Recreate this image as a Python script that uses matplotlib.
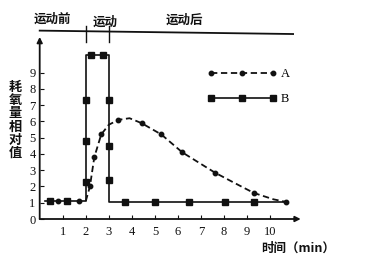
import numpy as np
import matplotlib
matplotlib.use('Agg')
import matplotlib.pyplot as plt
from matplotlib.lines import Line2D

plt.rcParams['font.family'] = ['Liberation Serif', 'DejaVu Serif']
CJK = ['Noto Sans CJK SC', 'DejaVu Sans']
INK = '#111111'

# curve B (solid, squares): line path + marker points
b_line_x = [0.25, 2.0, 2.0, 3.0, 3.0, 10.7]
b_line_y = [1.1, 1.1, 10.1, 10.1, 1.05, 1.05]
b_mark_x = [0.45, 1.2, 2.0, 2.0, 2.0, 2.24, 2.73, 3.0, 3.0, 3.0, 3.7, 5.0, 6.5, 8.05, 9.3]
b_mark_y = [1.1, 1.1, 2.3, 4.8, 7.3, 10.1, 10.1, 7.3, 4.5, 2.4, 1.05, 1.05, 1.05, 1.05, 1.05]

# curve A (dashed, dots)
a_line_x = [2.0, 2.18, 2.37, 2.67, 3.0, 3.42, 3.9, 4.42, 5.28, 6.19, 7.61, 8.48, 9.3, 10.15, 10.7]
a_line_y = [1.1, 2.0, 3.8, 5.2, 5.8, 6.1, 6.2, 5.9, 5.2, 4.1, 2.85, 2.2, 1.6, 1.21, 1.05]
a_mark_x = [0.81, 1.7, 2.18, 2.37, 2.67, 3.42, 4.42, 5.28, 6.19, 7.61, 9.3, 10.7]
a_mark_y = [1.1, 1.1, 2.0, 3.8, 5.2, 6.1, 5.9, 5.2, 4.1, 2.85, 1.6, 1.05]

x_ticks = list(range(1, 11))
y_ticks = list(range(0, 10))
phases = ['运动前', '运动', '运动后']
phase_x = [0.56, 2.84, 6.3]
phase_y = [12.3, 12.1, 12.25]

fig = plt.figure(figsize=(3.68, 2.65), dpi=100)
ax = fig.add_axes([39.7 / 368, 46 / 265, 261 / 368, 197 / 265])
ax.set_xlim(0, 11.33)
ax.set_ylim(0, 12.12)
for s in ax.spines.values():
    s.set_visible(False)

# axes with arrows
ax.annotate('', xy=(0, 11.2), xytext=(0, 0),
            arrowprops=dict(arrowstyle='-|>', lw=1.3, color=INK, shrinkA=0, shrinkB=0,
                            mutation_scale=8))
ax.annotate('', xy=(11.33, 0), xytext=(0, 0),
            arrowprops=dict(arrowstyle='-|>', lw=1.3, color=INK, shrinkA=0, shrinkB=0,
                            mutation_scale=8))

# top phase line
ax.plot([0, 11.0], [11.59, 11.38], color=INK, lw=1.3, clip_on=False)
for xv in [2.0, 3.0]:
    ax.plot([xv, xv], [11.9, 10.9], color=INK, lw=1.0, clip_on=False)
for t, xv, yv in zip(phases, phase_x, phase_y):
    ax.text(xv, yv, t, family=CJK, fontweight='bold', fontsize=9,
            ha='center', va='center', color=INK)

# B
ax.plot(b_line_x, b_line_y, color=INK, lw=1.2)
ax.plot(b_mark_x, b_mark_y, ls='none', marker='s', ms=4, color=INK)
# A
ax.plot(a_line_x, a_line_y, color=INK, lw=1.3, dashes=(3.5, 2))
ax.plot(a_mark_x, a_mark_y, ls='none', marker='o', ms=3.2, color=INK)

ax.set_xticks(x_ticks)
ax.set_yticks(y_ticks)
ax.tick_params(axis='both', direction='in', length=3, width=0.8, color=INK,
               labelsize=9, labelcolor=INK)
ax.tick_params(axis='x', pad=5)
ax.tick_params(axis='y', pad=3)

handles = [Line2D([], [], color=INK, lw=1.3, dashes=(3.5, 2), marker='o', ms=3.2),
           Line2D([], [], color=INK, lw=1.2, marker='s', ms=4)]
ax.legend(handles, ['A', 'B'], loc='upper left', bbox_to_anchor=(0.641, 0.765),
          frameon=False, numpoints=3, handlelength=5.6, handletextpad=0.3,
          borderpad=0, borderaxespad=0, labelspacing=1.05, fontsize=9)

fig.text(15 / 368, 1 - 120 / 265, '\n'.join('耗氧量相对值'), family=CJK,
         fontweight='bold', fontsize=9.5, ha='center', va='center',
         linespacing=0.92, color=INK)
fig.text(298 / 368, 1 - 248 / 265, '时间（min）', family=CJK, fontweight='bold',
         fontsize=9, ha='center', va='center', color=INK)

fig.savefig('out.png', dpi=100)
